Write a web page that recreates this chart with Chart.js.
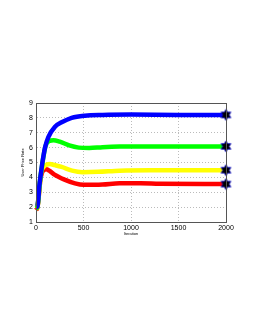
<!DOCTYPE html>
<html><head><meta charset="utf-8">
<script src="https://cdn.jsdelivr.net/npm/chart.js@4/dist/chart.umd.min.js"></script>
<style>html,body{margin:0;padding:0;background:#fff}#wrap{width:255px;height:330px}</style>
</head><body><div id="wrap"><canvas id="c" width="255" height="330"></canvas></div>
<script>
const blueX  = [0, 15, 25, 35, 50, 65, 80, 95, 130, 200, 270, 375, 515, 700, 1000, 1500, 2000];
const blueY  = [2.0, 2.05, 2.6, 3.4, 4.2, 4.9, 5.5, 6.0, 6.7, 7.4, 7.7, 8.0, 8.15, 8.2, 8.22, 8.2, 8.2];
const greenX = [0, 15, 25, 35, 50, 65, 80, 100, 140, 183, 250, 350, 450, 560, 700, 880, 1200, 2000];
const greenY = [1.9, 2.0, 2.55, 3.35, 4.15, 4.85, 5.45, 6.1, 6.45, 6.5, 6.4, 6.15, 6.0, 5.97, 6.03, 6.07, 6.08, 6.08];
const yellowX = [0, 15, 25, 35, 45, 57, 80, 110, 145, 200, 270, 380, 490, 650, 880, 1200, 2000];
const yellowY = [1.9, 2.0, 2.5, 3.2, 3.8, 4.4, 4.7, 4.85, 4.9, 4.82, 4.7, 4.45, 4.35, 4.37, 4.45, 4.48, 4.48];
const redX = [0, 15, 25, 35, 45, 65, 85, 108, 140, 190, 300, 410, 500, 700, 880, 1100, 1300, 2000];
const redY = [1.8, 1.95, 2.45, 3.15, 3.8, 4.35, 4.5, 4.55, 4.45, 4.2, 3.85, 3.6, 3.5, 3.52, 3.6, 3.6, 3.57, 3.55];
const xTicks = [0, 500, 1000, 1500, 2000];
const yTicks = [1, 2, 3, 4, 5, 6, 7, 8, 9];

function pts(xs, ys){ return xs.map((x,i)=>({x:x, y:ys[i]})); }

const star = document.createElement('canvas');
star.width = 13; star.height = 13;
(function(){
  const g = star.getContext('2d');
  const cx = 6.5, cy = 6.5, R = 5.6, r = 3.2;
  g.beginPath();
  for (let i = 0; i < 12; i++) {
    const a = -Math.PI/2 + i*Math.PI/6;
    const rr = i%2===0 ? R : r;
    const px = cx + rr*Math.cos(a), py = cy + rr*Math.sin(a);
    if (i===0) g.moveTo(px,py); else g.lineTo(px,py);
  }
  g.closePath();
  g.fillStyle = '#000';
  g.fill();
  g.strokeStyle = '#0000cc';
  g.lineWidth = 0.8;
  g.stroke();
})();

function ds(xs, ys, color){
  const n = xs.length;
  return {
    data: pts(xs, ys),
    borderColor: color,
    backgroundColor: color,
    borderWidth: 4.5,
    cubicInterpolationMode: 'monotone',
    pointRadius: ctx => ctx.dataIndex === n-1 ? 6 : 0,
    pointStyle: star,
    pointHoverRadius: 0,
    clip: false
  };
}

const framePlugin = {
  id: 'frame',
  afterDraw(chart){
    const a = chart.chartArea, g = chart.ctx;
    g.save();
    g.strokeStyle = '#555';
    g.lineWidth = 1;
    g.strokeRect(Math.round(a.left)+0.5, Math.round(a.top)+0.5, Math.round(a.right-a.left), Math.round(a.bottom-a.top));
    g.restore();
  }
};

new Chart(document.getElementById('c'), {
  type: 'line',
  data: { datasets: [
    ds(blueX, blueY, '#0000ff'),
    ds(greenX, greenY, '#00ff00'),
    ds(yellowX, yellowY, '#ffff00'),
    ds(redX, redY, '#ff0000')
  ]},
  options: {
    responsive: false,
    animation: false,
    events: [],
    layout: { padding: { left: 0, top: 103, right: 29, bottom: 94 } },
    plugins: { legend: { display: false }, tooltip: { enabled: false } },
    scales: {
      x: {
        type: 'linear', min: 0, max: 2000,
        afterBuildTicks: s => { s.ticks = xTicks.map(v => ({value: v})); },
        afterFit: s => { s.height = 14; },
        ticks: { color: '#000', font: { family: 'Liberation Sans', size: 7 }, padding: 2, maxRotation: 0, callback: v => String(v) },
        grid: { color: '#bbbbbb', drawTicks: false },
        border: { color: '#555', dash: [1, 2] },
        title: { display: true, text: 'Iteration', color: '#000', font: { family: 'Liberation Sans', size: 4 }, padding: { top: 0, bottom: 0 } }
      },
      y: {
        type: 'linear', min: 1, max: 9,
        afterBuildTicks: s => { s.ticks = yTicks.map(v => ({value: v})); },
        afterFit: s => { s.width = 36; },
        ticks: { color: '#000', font: { family: 'Liberation Sans', size: 7 }, padding: 3, callback: v => String(v) },
        grid: { color: '#bbbbbb', drawTicks: false },
        border: { color: '#555', dash: [1, 2] },
        title: { display: true, text: 'User Price Rate', color: '#000', font: { family: 'Liberation Sans', size: 4 }, padding: { top: 20, bottom: 0 } }
      }
    }
  },
  plugins: [framePlugin]
});
</script>
</body></html>
